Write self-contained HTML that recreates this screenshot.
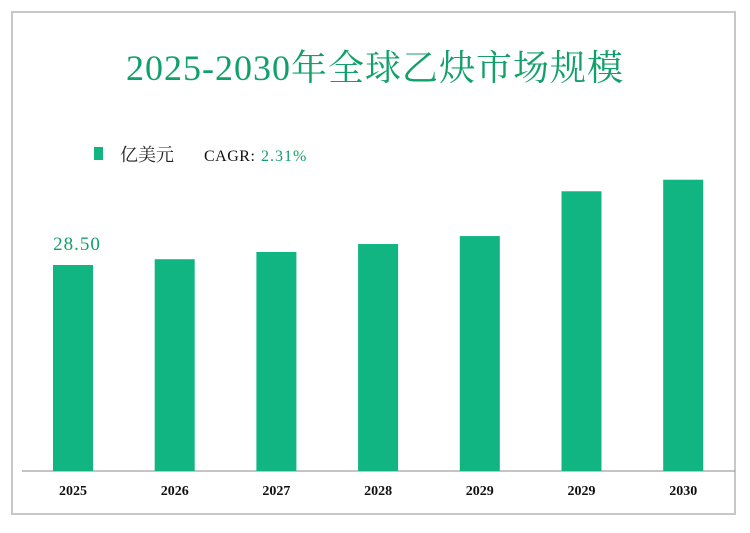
<!DOCTYPE html>
<html><head><meta charset="utf-8"><style>
body{margin:0;width:750px;height:533px;background:#fff;overflow:hidden;font-family:"Liberation Serif","Noto Serif CJK SC",serif;}
#frame{position:absolute;left:11px;top:11px;width:725px;height:504px;border:2px solid #c8c8c8;box-sizing:border-box;}
#title{position:absolute;left:0;top:40px;width:750px;text-align:center;font-size:36px;letter-spacing:1px;color:#12a06a;font-family:"Liberation Serif","Noto Serif CJK SC",serif;}
svg{position:absolute;left:0;top:0;}
</style></head><body>
<div id="frame"></div>
<div id="title">2025-2030年全球乙炔市场规模</div>
<svg id="chart" width="750" height="533">
<rect x="94" y="147" width="9" height="13" fill="#10b582"/>
<text x="120" y="161" font-size="18" fill="#222" font-family="Liberation Serif,Noto Serif CJK SC,serif">亿美元</text>
<text x="204" y="161" font-size="16" letter-spacing="0.5" fill="#111" font-family="Liberation Serif,Noto Serif CJK SC,serif">CAGR:</text>
<text x="261" y="161" font-size="16" letter-spacing="1" fill="#12a06a" font-family="Liberation Serif,serif">2.31%</text>
<line x1="22" y1="471" x2="735" y2="471" stroke="#888" stroke-width="1"/>
</svg>
<script>
const categories=["2025","2026","2027","2028","2029","2029","2030"];
const values=[28.5,29.3,30.3,31.4,32.5,38.7,40.3];
const labeled=["28.50","","","","","",""];
const svg=document.getElementById('chart');
const NS="http://www.w3.org/2000/svg";
const baseY=471, scale=206/28.5;
function xCenter(i){return 73+i*101.7;}
function yPos(v){return baseY-v*scale;}
categories.forEach((c,i)=>{
 const r=document.createElementNS(NS,'rect');
 r.setAttribute('x',xCenter(i)-20);r.setAttribute('width',40);
 r.setAttribute('y',yPos(values[i]));r.setAttribute('height',baseY-yPos(values[i]));
 r.setAttribute('fill','#10b582');
 
 
 svg.appendChild(r);
 const t=document.createElementNS(NS,'text');
 t.setAttribute('x',xCenter(i));t.setAttribute('y',495);t.setAttribute('text-anchor','middle');
 t.setAttribute('font-size','14');t.setAttribute('font-weight','bold');t.setAttribute('fill','#111');
 t.textContent=c;
 
 
 svg.appendChild(t);
 if(labeled[i]){
  const l=document.createElementNS(NS,'text');
  l.setAttribute('x',xCenter(i)+4);l.setAttribute('y',yPos(values[i])-15);l.setAttribute('text-anchor','middle');
  l.setAttribute('font-size','19');l.setAttribute('letter-spacing','1');l.setAttribute('fill','#12a06a');
  l.textContent=labeled[i];
  
  
  svg.appendChild(l);
 }
});
</script>
</body></html>
